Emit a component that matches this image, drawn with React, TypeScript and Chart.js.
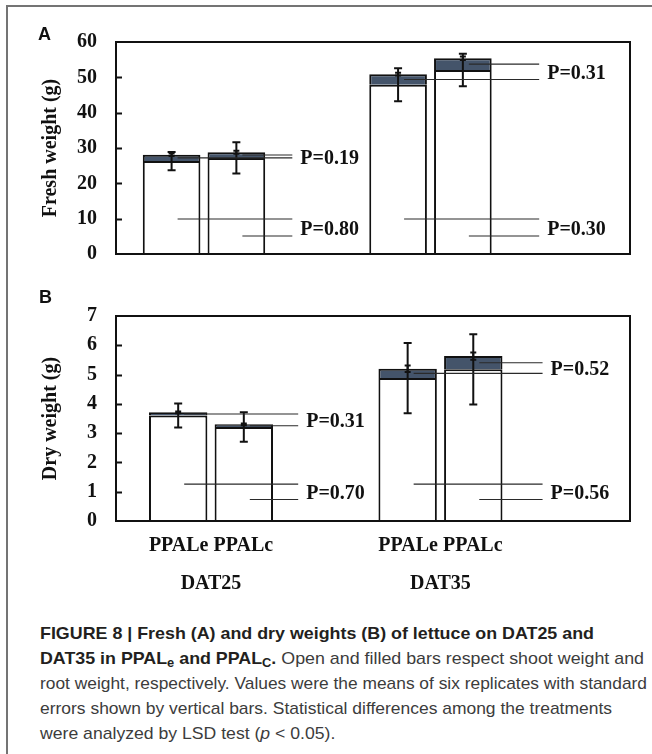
import React, { useEffect, useRef } from 'react';
import { Chart, registerables } from 'chart.js';

Chart.register(...registerables);

// ---------- data ----------
const groups = ['DAT25', 'DAT35'];
const treatments = ['PPALe', 'PPALc'];

// Panel A: fresh weight (g)
const freshShootE = [26.3, 47.9];
const freshRootE = [1.8, 3.0];
const freshShootC = [27.2, 52.1];
const freshRootC = [1.6, 3.3];
const freshShootSeE = [2.6, 4.7];
const freshShootSeC = [4.45, 4.6];
const freshRootSeE = [0.35, 0.4];
const freshRootSeC = [0.4, 0.5];
const freshPRoot = ['0.19', '0.31'];
const freshPShoot = ['0.80', '0.30'];

// Panel B: dry weight (g)
const dryShootE = [3.6, 4.88];
const dryRootE = [0.11, 0.32];
const dryShootC = [3.21, 5.18];
const dryRootC = [0.09, 0.45];
const dryShootSeE = [0.41, 1.2];
const dryShootSeC = [0.5, 1.2];
const dryRootSeE = [0.03, 0.11];
const dryRootSeC = [0.03, 0.12];
const dryPRoot = ['0.31', '0.52'];
const dryPShoot = ['0.70', '0.56'];

const SERIF = '"Liberation Serif", "Times New Roman", serif';
const INK = '#111';
const ROOT_FILL = '#44546a';

type Panel = {
  shootE: number[]; rootE: number[]; shootC: number[]; rootC: number[];
  seE: number[]; seC: number[]; rseE: number[]; rseC: number[];
  pRoot: string[]; pShoot: string[];
  yMax: number; step: number; yTitle: string;
  xMin: number; xMax: number; showX: boolean;
  leaderEnd: number[]; shootLeaderFrac: number[];
  padding: { left: number; right: number; top: number; bottom: number };
};

const panelA: Panel = {
  shootE: freshShootE, rootE: freshRootE, shootC: freshShootC, rootC: freshRootC,
  seE: freshShootSeE, seC: freshShootSeC, rseE: freshRootSeE, rseC: freshRootSeC,
  pRoot: freshPRoot, pShoot: freshPShoot,
  yMax: 60, step: 10, yTitle: 'Fresh weight (g)',
  xMin: 0.6115, xMax: 2.881, showX: false,
  leaderEnd: [0.39, 0.48], shootLeaderFrac: [0.165, 0.085],
  padding: { left: 0, right: 22, top: 42, bottom: 18 },
};

const panelB: Panel = {
  shootE: dryShootE, rootE: dryRootE, shootC: dryShootC, rootC: dryRootC,
  seE: dryShootSeE, seC: dryShootSeC, rseE: dryRootSeE, rseC: dryRootSeC,
  pRoot: dryPRoot, pShoot: dryPShoot,
  yMax: 7, step: 1, yTitle: 'Dry weight (g)',
  xMin: 0.586, xMax: 2.826, showX: true,
  leaderEnd: [0.38, 0.445], shootLeaderFrac: [0.18, 0.105],
  padding: { left: 0, right: 22, top: 12, bottom: 7 },
};

function annotPlugin(p: Panel) {
  return {
    id: 'annot',
    afterDatasetsDraw(chart: any) {
      const ctx = chart.ctx as CanvasRenderingContext2D;
      const ys = chart.scales.y;
      const xs = chart.scales.x;
      const metaE = chart.getDatasetMeta(0);
      const metaC = chart.getDatasetMeta(2);
      const pairs = [
        { meta: metaE, shoot: p.shootE, root: p.rootE, se: p.seE, rse: p.rseE },
        { meta: metaC, shoot: p.shootC, root: p.rootC, se: p.seC, rse: p.rseC },
      ];
      ctx.save();
      // error bars
      ctx.strokeStyle = INK;
      ctx.lineWidth = 2;
      const errBar = (bx: number, lo: number, hi: number, cap: number) => {
        const y1 = ys.getPixelForValue(lo);
        const y2 = ys.getPixelForValue(hi);
        ctx.beginPath();
        ctx.moveTo(bx, y1); ctx.lineTo(bx, y2);
        ctx.moveTo(bx - cap, y1); ctx.lineTo(bx + cap, y1);
        ctx.moveTo(bx - cap, y2); ctx.lineTo(bx + cap, y2);
        ctx.stroke();
      };
      pairs.forEach((pr) => {
        groups.forEach((_, i) => {
          const bx = pr.meta.data[i].x;
          const s = pr.shoot[i];
          const t = s + pr.root[i];
          errBar(bx, s - pr.se[i], s + pr.se[i], 4);
          errBar(bx, t - pr.rse[i], t + pr.rse[i], 3);
        });
      });
      // leader lines + P labels
      ctx.strokeStyle = '#2a2a2a';
      ctx.lineWidth = 1.1;
      ctx.fillStyle = INK;
      ctx.font = `bold 20px ${SERIF}`;
      ctx.textAlign = 'left';
      ctx.textBaseline = 'middle';
      groups.forEach((_, g) => {
        const endX = xs.getPixelForValue(g + 1 + p.leaderEnd[g]);
        const rootYs: number[] = [];
        const shootYs: number[] = [];
        pairs.forEach((pr, k) => {
          const bx = pr.meta.data[g].x;
          const ry = ys.getPixelForValue(pr.shoot[g] + pr.root[g] / 2);
          const sy = ys.getPixelForValue(ys.max * p.shootLeaderFrac[k]);
          rootYs.push(ry); shootYs.push(sy);
          ctx.beginPath();
          ctx.moveTo(bx + 6, ry); ctx.lineTo(endX, ry);
          ctx.moveTo(bx + 6, sy); ctx.lineTo(endX, sy);
          ctx.stroke();
        });
        const ry = (rootYs[0] + rootYs[1]) / 2 + 2;
        const sy = (shootYs[0] + shootYs[1]) / 2 + 2;
        ctx.fillText('P=' + p.pRoot[g], endX + 8, ry);
        ctx.fillText('P=' + p.pShoot[g], endX + 8, sy);
      });
      ctx.restore();
    },
    afterDraw(chart: any) {
      const ctx = chart.ctx as CanvasRenderingContext2D;
      const { left, right, top, bottom } = chart.chartArea;
      const ys = chart.scales.y;
      ctx.save();
      ctx.strokeStyle = INK;
      ctx.lineWidth = 2;
      ctx.strokeRect(left, top, right - left, bottom - top);
      ctx.beginPath();
      for (let v = p.step; v < p.yMax; v += p.step) {
        const yy = Math.round(ys.getPixelForValue(v)) + 0.5;
        ctx.moveTo(left, yy); ctx.lineTo(left + 6, yy);
      }
      ctx.stroke();
      ctx.restore();
    },
  };
}

function makeConfig(p: Panel): any {
  const pts = (arr: number[]) => arr.map((v, i) => ({ x: i + 1, y: v }));
  const common = { borderColor: INK, borderWidth: 2, categoryPercentage: 0.572, barPercentage: 0.89 };
  const tickFont = { family: SERIF, size: 20, weight: 'bold' as const };
  return {
    type: 'bar',
    data: {
      datasets: [
        { label: 'shoot ' + treatments[0], data: pts(p.shootE), stack: 'e', backgroundColor: '#ffffff', ...common },
        { label: 'root ' + treatments[0], data: pts(p.rootE), stack: 'e', backgroundColor: ROOT_FILL, ...common },
        { label: 'shoot ' + treatments[1], data: pts(p.shootC), stack: 'c', backgroundColor: '#ffffff', ...common },
        { label: 'root ' + treatments[1], data: pts(p.rootC), stack: 'c', backgroundColor: ROOT_FILL, ...common },
      ],
    },
    options: {
      responsive: false,
      animation: false,
      events: [],
      layout: { padding: p.padding },
      plugins: { legend: { display: false }, tooltip: { enabled: false }, title: { display: false } },
      scales: {
        x: {
          type: 'linear',
          min: p.xMin,
          max: p.xMax,
          stacked: true,
          offset: false,
          grid: { display: false, drawTicks: false },
          border: { display: false },
          afterBuildTicks: (s: any) => { s.ticks = groups.map((_, i) => ({ value: i + 1 })); },
          afterFit: (s: any) => { s.height = p.showX ? 82 : 0; },
          ticks: {
            display: p.showX,
            autoSkip: false,
            maxRotation: 0,
            minRotation: 0,
            padding: 6,
            color: INK,
            font: { ...tickFont, lineHeight: 1.9 },
            callback: (v: number) => [treatments.join(' '), groups[Math.round(v) - 1]],
          },
        },
        y: {
          min: 0,
          max: p.yMax,
          stacked: true,
          grid: { display: false, drawTicks: false },
          border: { display: false },
          afterFit: (s: any) => { s.width = 116; },
          ticks: { stepSize: p.step, padding: 19, color: INK, font: tickFont },
          title: {
            display: true,
            text: p.yTitle,
            color: INK,
            font: { family: SERIF, size: 20, weight: 'bold' },
            padding: { top: 39, bottom: 0 },
          },
        },
      },
    },
    plugins: [annotPlugin(p)],
  };
}

function PanelChart({ p, top, height }: { p: Panel; top: number; height: number }) {
  const ref = useRef<HTMLCanvasElement>(null);
  useEffect(() => {
    if (!ref.current) return;
    const chart = new Chart(ref.current, makeConfig(p));
    return () => chart.destroy();
  }, [p]);
  return (
    <canvas
      ref={ref}
      width={652}
      height={height}
      style={{ position: 'absolute', left: 0, top, width: 652, height }}
    />
  );
}

// target widths of the first four caption lines; the last one uses their mean scale
const captionTargets = [554, 604, 607, 572];

function Caption() {
  const refs = useRef<(HTMLSpanElement | null)[]>([]);
  useEffect(() => {
    const els = refs.current;
    const scales: number[] = [];
    els.forEach((el, i) => {
      if (!el || i >= captionTargets.length) return;
      el.style.transform = 'none';
      const w = el.getBoundingClientRect().width;
      if (w > 0) {
        const s = captionTargets[i] / w;
        scales.push(s);
        el.style.transform = `scaleX(${s})`;
      }
    });
    const mean = scales.length ? scales.reduce((a, b) => a + b, 0) / scales.length : 1;
    els.forEach((el, i) => {
      if (el && i >= captionTargets.length) el.style.transform = `scaleX(${mean})`;
    });
  }, []);
  const bold: React.CSSProperties = { fontWeight: 'bold', color: '#231f20' };
  const sub: React.CSSProperties = { fontSize: '0.72em', verticalAlign: '-0.28em' };
  const lineStyle: React.CSSProperties = { display: 'inline-block', whiteSpace: 'nowrap', transformOrigin: '0 0' };
  const lines: React.ReactNode[] = [
    <span style={bold}>FIGURE 8 | Fresh (A) and dry weights (B) of lettuce on DAT25 and</span>,
    <>
      <span style={bold}>
        DAT35 in PPAL<span style={sub}>e</span> and PPAL<span style={sub}>C</span>.
      </span>{' '}
      Open and filled bars respect shoot weight and
    </>,
    <>root weight, respectively. Values were the means of six replicates with standard</>,
    <>errors shown by vertical bars. Statistical differences among the treatments</>,
    <>
      were analyzed by LSD test (<i>p</i> &lt; 0.05).
    </>,
  ];
  return (
    <div
      style={{
        position: 'absolute',
        left: 40,
        top: 621,
        fontFamily: '"Liberation Sans", Arial, sans-serif',
        fontSize: 17,
        lineHeight: '25px',
        color: '#3c3c3c',
      }}
    >
      {lines.map((l, i) => (
        <div key={i} style={{ height: 25 }}>
          <span ref={(el) => { refs.current[i] = el; }} style={lineStyle}>{l}</span>
        </div>
      ))}
    </div>
  );
}

export default function App() {
  const letter: React.CSSProperties = {
    position: 'absolute',
    fontFamily: '"Liberation Sans", Arial, sans-serif',
    fontWeight: 'bold',
    fontSize: 18,
    lineHeight: '18px',
    color: '#111',
  };
  return (
    <div
      style={{
        position: 'absolute',
        left: 0,
        top: 0,
        width: 652,
        height: 754,
        overflow: 'hidden',
        background: '#fff',
      }}
    >
      <div
        style={{
          position: 'absolute',
          left: 6,
          top: 5,
          width: 700,
          height: 800,
          borderLeft: '2px solid #747474',
          borderTop: '2px solid #747474',
        }}
      />
      <PanelChart p={panelA} top={0} height={285} />
      <PanelChart p={panelB} top={285} height={325} />
      <div style={{ ...letter, left: 38, top: 24.5 }}>A</div>
      <div style={{ ...letter, left: 39, top: 287.5 }}>B</div>
      <Caption />
    </div>
  );
}
